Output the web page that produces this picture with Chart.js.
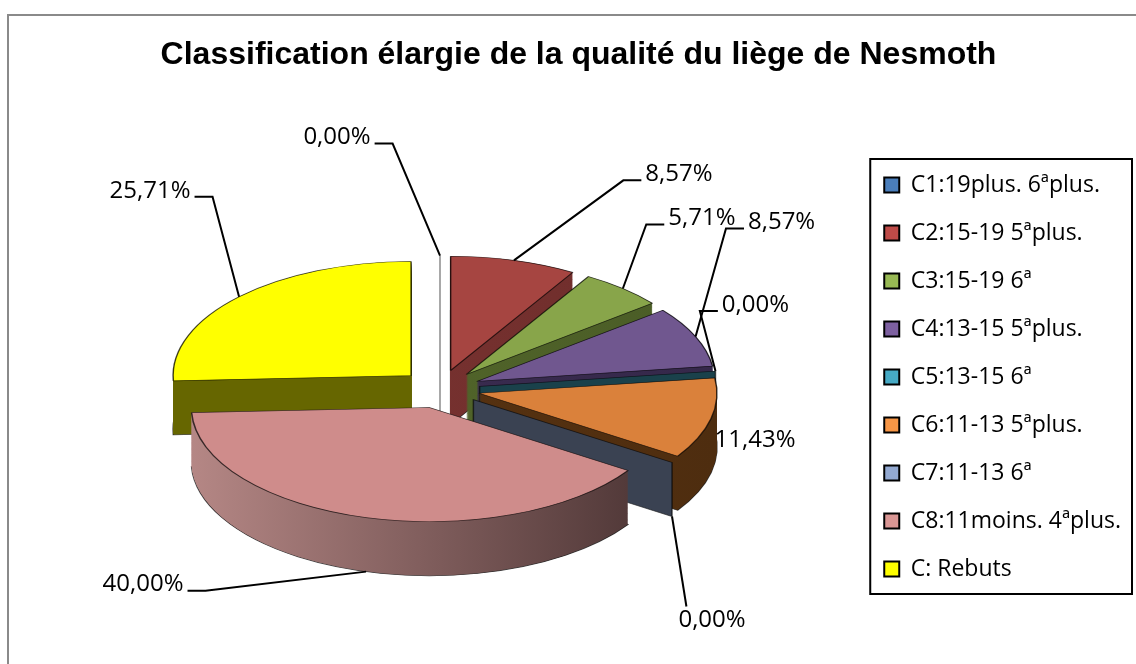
<!DOCTYPE html>
<html>
<head>
<meta charset="utf-8">
<script src="https://cdn.jsdelivr.net/npm/chart.js@4/dist/chart.umd.min.js"></script>
<style>
html, body { margin: 0; padding: 0; background: #fff; }
canvas { display: block; }
</style>
</head>
<body>
<canvas id="myChart" width="1136" height="664"></canvas>
<script>
var categories = ['C1:19plus. 6ªplus.', 'C2:15-19 5ªplus.', 'C3:15-19 6ª', 'C4:13-15 5ªplus.', 'C5:13-15 6ª',
    'C6:11-13 5ªplus.', 'C7:11-13 6ª', 'C8:11moins. 4ªplus.', 'C: Rebuts'];
var percentages = [0, 8.57, 5.71, 8.57, 0, 11.43, 0, 40.00, 25.71];
var percentLabels = ['0,00%', '8,57%', '5,71%', '8,57%', '0,00%', '11,43%', '0,00%', '40,00%', '25,71%'];

// colours: top faces, side walls (light -> dark), legend swatches
var topColors = ['#4F81BD', '#A64541', '#88A54A', '#70578F', '#3E97AE', '#DA813B', '#8197C0', '#CF8C8B', '#FFFF00'];
var wallLight = ['#8C8C8C', '#7C3432', '#55692C', '#3C2D52', '#1E4A55', '#5C3512', '#3A4252', '#B58785', '#666600'];
var wallDark = ['#8C8C8C', '#6E2D2B', '#4A5C26', '#35284A', '#1A414B', '#4E2D0F', '#3A4252', '#4A3333', '#666600'];
var legendColors = ['#4A7EBB', '#BE4B48', '#98B954', '#7D60A0', '#46AAC5', '#F79646', '#93A9D1', '#D99694', '#FFFF00'];

// label nudges from the slice rim point, in px
var labelShift = [[-103, -118], [165, -86], [79, -70], [86, -114], [40, -66], [44, 21], [40, 104], [-223, 13], [-89, -106]];

var pieX = 440, pieY = 389;   // where the pie centre lands
var squash = 0.48;            // vertical tilt
var depth = 54;               // thickness in px
var explode = 40;
var legendDrop = 45;

function midAngle(arc) {
    return (arc.startAngle + arc.endAngle) / 2;
}

function toScreen(chart, px, py) {
    var a = chart.getDatasetMeta(0).data[0];
    return [pieX + (px - a.x), pieY + (py - a.y) * squash];
}

function attachPoint(chart, i) {
    var arc = chart.getDatasetMeta(0).data[i];
    var m = midAngle(arc);
    var r = arc.outerRadius + explode;
    var p = toScreen(chart, arc.x + Math.cos(m) * r, arc.y + Math.sin(m) * r);
    if (Math.sin(m) > 0.3) p[1] += depth;
    return p;
}

var pie3d = {
    id: 'pie3d',
    afterLayout: function (chart) {
        chart.legend.top += legendDrop;
        chart.legend.bottom += legendDrop;
    },
    beforeDraw: function (chart) {
        var ctx = chart.ctx;
        ctx.save();
        ctx.strokeStyle = '#8A8A8A';
        ctx.lineWidth = 2;
        ctx.strokeRect(8, 15, 1200, 700);
        ctx.restore();
    },
    beforeDatasetsDraw: function (chart) {
        var ctx = chart.ctx;
        var arcs = chart.getDatasetMeta(0).data;
        var cx = arcs[0].x, cy = arcs[0].y;
        var d = depth / squash;
        ctx.save();
        ctx.translate(pieX, pieY);
        ctx.scale(1, squash);
        ctx.translate(-cx, -cy);

        var order = arcs.map(function (a, i) { return i; });
        order.sort(function (a, b) {
            return Math.sin(midAngle(arcs[a])) - Math.sin(midAngle(arcs[b]));
        });

        order.forEach(function (i) {
            var arc = arcs[i];
            var m = midAngle(arc);
            var ox = Math.cos(m) * explode, oy = Math.sin(m) * explode;
            var ax = arc.x + ox, ay = arc.y + oy;
            var R = arc.outerRadius;

            if (arc.circumference === 0) {
                // empty slice: only its cut face shows
                var bx = ax + Math.cos(arc.startAngle) * R, by = ay + Math.sin(arc.startAngle) * R;
                ctx.beginPath();
                ctx.moveTo(ax, ay);
                ctx.lineTo(bx, by);
                ctx.lineTo(bx, by + d);
                ctx.lineTo(ax, ay + d);
                ctx.closePath();
                ctx.fillStyle = wallDark[i];
                ctx.fill();
                ctx.lineWidth = 1.5;
                ctx.strokeStyle = i === 0 ? '#8C8C8C' : 'rgba(0,0,0,0.6)';
                ctx.stroke();
                return;
            }

            var grad = ctx.createLinearGradient(ax - R, 0, ax + R, 0);
            grad.addColorStop(0, wallLight[i]);
            grad.addColorStop(1, wallDark[i]);
            for (var s = d; s > 0; s -= 1) {
                ctx.beginPath();
                ctx.moveTo(ax, ay + s);
                ctx.arc(ax, ay + s, R, arc.startAngle, arc.endAngle);
                ctx.closePath();
                ctx.fillStyle = grad;
                ctx.fill();
                if (s === d) {
                    ctx.lineWidth = 1.5;
                    ctx.strokeStyle = 'rgba(0,0,0,0.7)';
                    ctx.stroke();
                }
            }
            ctx.save();
            ctx.translate(ox, oy);
            arc.draw(ctx);
            ctx.restore();
        });
        ctx.restore();
        return false;
    },
    afterDraw: function (chart) {
        var ctx = chart.ctx;
        ctx.save();

        // legend frame
        var boxes = chart.legend.legendHitBoxes;
        var first = boxes[0], last = boxes[boxes.length - 1];
        ctx.strokeStyle = '#000';
        ctx.lineWidth = 2;
        ctx.strokeRect(first.left - 14, first.top - 14.5, chart.legend.right + 1 - (first.left - 14),
            last.top + last.height + 13.5 - (first.top - 14.5));

        // percentage labels with leader lines
        ctx.font = '24px "Open Sans"';
        ctx.textAlign = 'center';
        ctx.textBaseline = 'middle';
        ctx.fillStyle = '#000';
        ctx.strokeStyle = '#000';
        ctx.lineWidth = 2;
        percentLabels.forEach(function (txt, i) {
            var p = attachPoint(chart, i);
            var lx = p[0] + labelShift[i][0], ly = p[1] + labelShift[i][1];
            ctx.fillText(txt, lx, ly);
            var w = ctx.measureText(txt).width;
            var left = lx - w / 2, right = lx + w / 2, top = ly - 12, bottom = ly + 12;
            var dx = Math.max(left - p[0], 0, p[0] - right);
            var dy = Math.max(top - p[1], 0, p[1] - bottom);
            if (Math.sqrt(dx * dx + dy * dy) < 25) return;
            ctx.beginPath();
            if (Math.abs(labelShift[i][1]) > 2 * Math.abs(labelShift[i][0])) {
                var tx = Math.min(Math.max(p[0], left + 8), right - 8);
                var ty = labelShift[i][1] > 0 ? top - 2 : bottom + 2;
                ctx.moveTo(p[0], p[1]);
                ctx.lineTo(tx, ty);
            } else if (lx < p[0]) {
                ctx.moveTo(right + 4, ly + 6);
                ctx.lineTo(right + 22, ly + 6);
                ctx.lineTo(p[0], p[1]);
            } else {
                ctx.moveTo(left - 4, ly + 6);
                ctx.lineTo(left - 22, ly + 6);
                ctx.lineTo(p[0], p[1]);
            }
            ctx.stroke();
        });
        ctx.restore();
    }
};

var ctx = document.getElementById('myChart').getContext('2d');

var myPieChart = new Chart(ctx, {
    type: 'pie',
    data: {
        labels: categories,
        datasets: [{
            data: percentages,
            backgroundColor: topColors,
            borderColor: 'rgba(0,0,0,0.7)',
            borderWidth: 1.5
        }]
    },
    options: {
        responsive: false,
        devicePixelRatio: 1,
        animation: false,
        events: [],
        radius: 238,
        layout: {
            padding: { left: 26, right: 5, top: 0, bottom: 0 }
        },
        plugins: {
            title: {
                display: true,
                text: 'Classification élargie de la qualité du liège de Nesmoth',
                color: '#000',
                font: { family: 'Liberation Sans', size: 32, weight: 'bold' },
                padding: { top: 36, bottom: 12 }
            },
            legend: {
                position: 'right',
                align: 'center',
                labels: {
                    color: '#000',
                    font: { family: 'Open Sans', size: 23 },
                    boxWidth: 15,
                    boxHeight: 15,
                    padding: 25,
                    generateLabels: function (chart) {
                        return categories.map(function (c, i) {
                            return {
                                text: c,
                                fillStyle: legendColors[i],
                                strokeStyle: '#000',
                                lineWidth: 2,
                                hidden: false,
                                index: i,
                                datasetIndex: 0
                            };
                        });
                    }
                }
            },
            tooltip: { enabled: false }
        }
    },
    plugins: [pie3d]
});
</script>
</body>
</html>
